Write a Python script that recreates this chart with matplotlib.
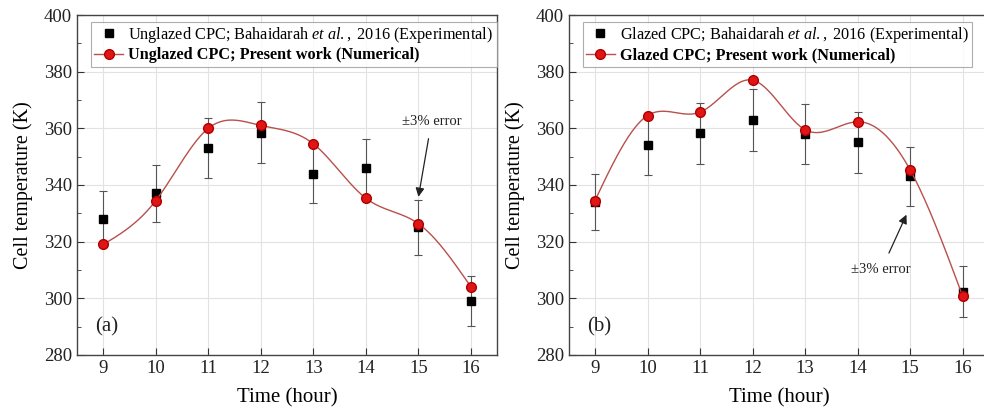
import numpy as np
import matplotlib
matplotlib.use("Agg")
import matplotlib.pyplot as plt

plt.rcParams['font.family'] = ['Liberation Serif', 'DejaVu Serif']
plt.rcParams['mathtext.fontset'] = 'custom'
plt.rcParams['mathtext.rm'] = 'Liberation Serif'
plt.rcParams['mathtext.it'] = 'Liberation Serif:italic'

# Hours of the day
hours = [9, 10, 11, 12, 13, 14, 15, 16]

# (a) Unglazed CPC cell temperature (K)
unglazed_exp = [328.0, 337.0, 353.0, 358.5, 344.0, 346.0, 325.0, 299.0]
unglazed_num = [319.0, 334.5, 360.0, 361.0, 354.5, 335.3, 326.3, 304.0]

# (b) Glazed CPC cell temperature (K)
glazed_exp = [334.0, 354.0, 358.3, 363.0, 358.0, 355.0, 343.0, 302.3]
glazed_num = [334.5, 364.5, 365.7, 377.0, 359.5, 362.3, 345.3, 300.7]

err_frac = 0.03  # +/-3% experimental error


def natural_spline(x, y, n=300):
    # natural cubic spline through the given points
    x = np.asarray(x, float)
    y = np.asarray(y, float)
    k = len(x)
    h = np.diff(x)
    A = np.zeros((k, k))
    b = np.zeros(k)
    A[0, 0] = A[-1, -1] = 1
    for i in range(1, k - 1):
        A[i, i - 1] = h[i - 1]
        A[i, i] = 2 * (h[i - 1] + h[i])
        A[i, i + 1] = h[i]
        b[i] = 3 * ((y[i + 1] - y[i]) / h[i] - (y[i] - y[i - 1]) / h[i - 1])
    c = np.linalg.solve(A, b)
    xs = np.linspace(x[0], x[-1], n)
    ys = np.empty_like(xs)
    for j, xv in enumerate(xs):
        i = min(np.searchsorted(x, xv, side='right') - 1, k - 2)
        dx = xv - x[i]
        bi = (y[i + 1] - y[i]) / h[i] - h[i] * (2 * c[i] + c[i + 1]) / 3
        di = (c[i + 1] - c[i]) / (3 * h[i])
        ys[j] = y[i] + bi * dx + c[i] * dx ** 2 + di * dx ** 3
    return xs, ys


def draw_panel(ax, exp, num, name, tag):
    ax.set_xlim(8.5, 16.5)
    ax.set_ylim(280, 400)
    ax.set_xticks(hours)
    ax.set_yticks(range(280, 401, 20))
    ax.set_yticks(range(290, 400, 20), minor=True)
    ax.grid(True, which='major', color='#e2e2e2', lw=0.8)
    ax.set_axisbelow(True)
    ax.tick_params(which='both', direction='in', labelsize=13.5, colors='#333333',
                   labelcolor='#222222')
    ax.tick_params(which='major', length=5)
    ax.tick_params(which='minor', length=3)
    for s in ax.spines.values():
        s.set_color('#444444')
        s.set_linewidth(1.0)

    errs = [v * err_frac for v in exp]
    ax.errorbar(hours, exp, yerr=errs, fmt='none', ecolor='#555555',
                elinewidth=0.8, capsize=3, capthick=0.8, zorder=2)
    ax.plot(hours, exp, 's', color='black', ms=5.5, zorder=3,
            label=name + r' CPC; Bahaidarah $\mathit{et\ al.,}$ 2016 (Experimental)')
    xs, ys = natural_spline(hours, num)
    ax.plot(xs, ys, color='#b8504c', lw=1.0, zorder=4)
    ax.plot(hours, num, 'o', color='#e01515', mec='#b00000', ms=7, zorder=5)
    # proxy entry: line with circle marker for the legend
    ax.plot([], [], '-o', color='#b8504c', mfc='#e01515', mec='#b00000', ms=7,
            lw=1.0, label=name + ' CPC; Present work (Numerical)')

    leg = ax.legend(loc='upper left', bbox_to_anchor=(0.033, 0.98), fontsize=11.7,
                    frameon=True, fancybox=False, edgecolor='#999999',
                    borderpad=0.2, labelspacing=0.15, handlelength=1.8,
                    handletextpad=0.3, borderaxespad=0.0)
    leg.get_frame().set_linewidth(0.8)
    leg.get_texts()[1].set_fontweight('bold')

    ax.text(8.85, 290, tag, fontsize=15, ha='left', va='center', color='#222222')
    ax.set_xlabel('Time (hour)', fontsize=15, labelpad=8)
    ax.set_ylabel('Cell temperature (K)', fontsize=14.5, labelpad=8)


fig = plt.figure(figsize=(9.84, 4.17), dpi=100)
ax1 = fig.add_axes([0.0783, 0.149, 0.427, 0.815])
ax2 = fig.add_axes([0.578, 0.149, 0.427, 0.815])

draw_panel(ax1, unglazed_exp, unglazed_num, 'Unglazed', '(a)')
draw_panel(ax2, glazed_exp, glazed_num, 'Glazed', '(b)')

ax1.annotate('±3% error', xy=(15.0, 335.8), xytext=(15.25, 362.5),
             fontsize=10.5, ha='center', va='center', color='#222222',
             arrowprops=dict(arrowstyle='-|>', color='#222222', lw=0.9,
                             mutation_scale=13, shrinkA=6, shrinkB=0))
ax2.annotate('±3% error', xy=(14.93, 329.5), xytext=(14.45, 310),
             fontsize=10.5, ha='center', va='center', color='#222222',
             arrowprops=dict(arrowstyle='-|>', color='#222222', lw=0.9,
                             mutation_scale=13, shrinkA=6, shrinkB=0))

fig.savefig('out.png', dpi=100)
